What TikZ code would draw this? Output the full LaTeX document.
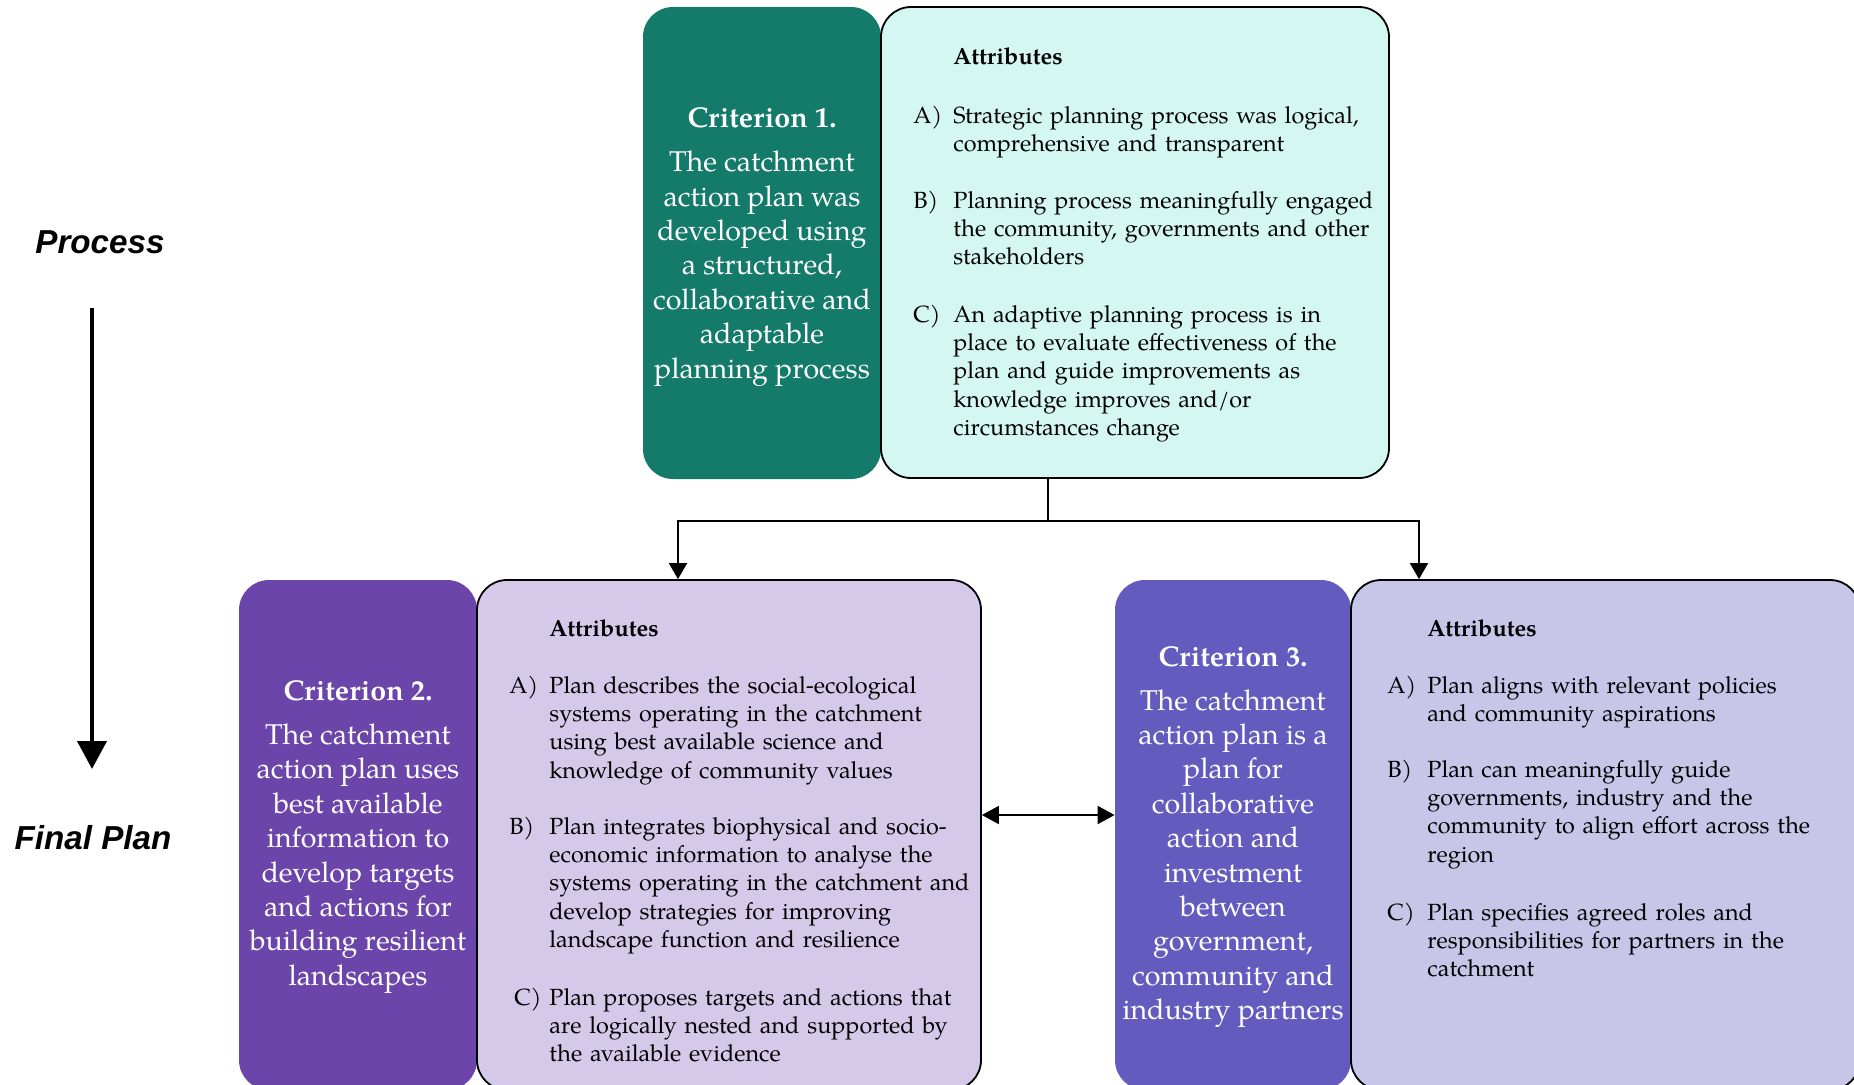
\documentclass[tikz,border=0pt]{standalone}
\usepackage{fontspec}
\setmainfont{TeX Gyre Pagella}
\newfontfamily\arialfont{Liberation Sans}
\usetikzlibrary{arrows.meta}
\definecolor{critone}{HTML}{147A69}
\definecolor{attrone}{HTML}{D5F7F1}
\definecolor{crittwo}{HTML}{6B45AA}
\definecolor{attrtwo}{HTML}{D5C9EA}
\definecolor{critthree}{HTML}{635BBE}
\definecolor{attrthree}{HTML}{C7C5E8}
\newcommand{\critfont}{\fontsize{14.3}{17.2}\selectfont}
\newcommand{\attrfont}{\fontsize{11.7}{14.2}\selectfont}
\tikzset{
  critbox/.style={rectangle, rounded corners=15pt, draw=none, inner sep=0pt},
  crittext/.style={text=white, align=center, font=\critfont, inner sep=0pt},
  attrbox/.style={rectangle, rounded corners=15pt, draw=black, line width=0.9pt},
  attrtext/.style={anchor=base west, inner sep=0pt, text width=240pt, align=left, font=\attrfont},
  attrlabel/.style={anchor=base west, inner sep=0pt, font=\attrfont},
  sidelabel/.style={inner sep=0pt, font=\arialfont\bfseries\itshape\fontsize{16.6}{20}\selectfont},
  conn/.style={line width=1pt, draw=black},
  connarr/.style={line width=1pt, draw=black, -{Triangle[length=8pt,width=9pt]}},
  dblarr/.style={line width=1pt, draw=black, {Triangle[length=8.5pt,width=9pt]}-{Triangle[length=8.5pt,width=9pt]}},
  bigarr/.style={line width=2pt, draw=black, -{Triangle[length=14pt,width=14.5pt]}}
}
\begin{document}
\begin{tikzpicture}[x=0.5pt,y=-0.5pt]
\useasboundingbox (0,0) rectangle (1854,1084);
\clip (0,0) rectangle (1854,1084);

% side labels and process arrow
\node[sidelabel, anchor=base] (proc) at (100,253) {Process};
\node[sidelabel, anchor=base] (fin) at (93,849) {Final Plan};
\coordinate (ptop) at (92,308);
\coordinate (pend) at (92,769);
\draw[bigarr] (ptop) -- (pend);

% criterion 1
\node[critbox, fill=critone, minimum width=119pt, minimum height=236pt] (c1) at (762,243) {};
\node[crittext] (c1t) at (762,247)
  {\textbf{Criterion 1.}\\[4.8pt] The catchment\\ action plan was\\ developed using\\ a structured,\\ collaborative and\\ adaptable\\ planning process};
\node[attrbox, fill=attrone, minimum width=254pt, minimum height=235.5pt] (a1) at (1135,242.5) {};
\node[attrtext] (a1h) at (953,64) {\textbf{Attributes}};
\node[attrlabel] (a1al) at (913,123) {A)};
\node[attrtext] (a1a) at (953,123) {Strategic planning process was logical,\\ comprehensive and transparent};
\node[attrlabel] (a1bl) at (913,208) {B)};
\node[attrtext] (a1b) at (953,208) {Planning process meaningfully engaged\\ the community, governments and other\\ stakeholders};
\node[attrlabel] (a1cl) at (913,322) {C)};
\node[attrtext] (a1c) at (953,322) {An adaptive planning process is in\\ place to evaluate effectiveness of the\\ plan and guide improvements as\\ knowledge improves and/or\\ circumstances change};

% criterion 2
\node[critbox, fill=crittwo, minimum width=119pt, minimum height=255pt] (c2) at (358,835) {};
\node[crittext] (c2t) at (358,837)
  {\textbf{Criterion 2.}\\[4.8pt] The catchment\\ action plan uses\\ best available\\ information to\\ develop targets\\ and actions for\\ building resilient\\ landscapes};
\node[attrbox, fill=attrtwo, minimum width=252pt, minimum height=255pt] (a2) at (729,835) {};
\node[attrtext] (a2h) at (549,636) {\textbf{Attributes}};
\node[attrlabel] (a2al) at (509,693) {A)};
\node[attrtext] (a2a) at (549,693) {Plan describes the social-ecological\\ systems operating in the catchment\\ using best available science and\\ knowledge of community values};
\node[attrlabel] (a2bl) at (509,834) {B)};
\node[attrtext] (a2b) at (549,834) {Plan integrates biophysical and socio-\\ economic information to analyse the\\ systems operating in the catchment and\\ develop strategies for improving\\ landscape function and resilience};
\node[attrlabel] (a2cl) at (514,1005) {C)};
\node[attrtext] (a2c) at (549,1005) {Plan proposes targets and actions that\\ are logically nested and supported by\\ the available evidence};

% criterion 3
\node[critbox, fill=critthree, minimum width=118pt, minimum height=255pt] (c3) at (1233,835) {};
\node[crittext] (c3t) at (1233,837)
  {\textbf{Criterion 3.}\\[4.8pt] The catchment\\ action plan is a\\ plan for\\ collaborative\\ action and\\ investment\\ between\\ government,\\ community and\\ industry partners};
\node[attrbox, fill=attrthree, minimum width=254.5pt, minimum height=255pt] (a3) at (1605.5,835) {};
\node[attrtext] (a3h) at (1427,636) {\textbf{Attributes}};
\node[attrlabel] (a3al) at (1387,693) {A)};
\node[attrtext] (a3a) at (1427,693) {Plan aligns with relevant policies\\ and community aspirations};
\node[attrlabel] (a3bl) at (1387,777) {B)};
\node[attrtext] (a3b) at (1427,777) {Plan can meaningfully guide\\ governments, industry and the\\ community to align effort across the\\ region};
\node[attrlabel] (a3cl) at (1387,920) {C)};
\node[attrtext] (a3c) at (1427,920) {Plan specifies agreed roles and\\ responsibilities for partners in the\\ catchment};

% connectors
\coordinate (split) at (1048,521);
\coordinate (in2) at (678,0);
\coordinate (in3) at (1419,0);
\coordinate (mid) at (0,815);
\draw[conn] (split |- a1.south) -- (split);
\draw[connarr] (split) -| (in2 |- a2.north);
\draw[connarr] (split) -| (in3 |- a3.north);
\draw[dblarr] (a2.east |- mid) -- (c3.west |- mid);
\end{tikzpicture}
\end{document}
